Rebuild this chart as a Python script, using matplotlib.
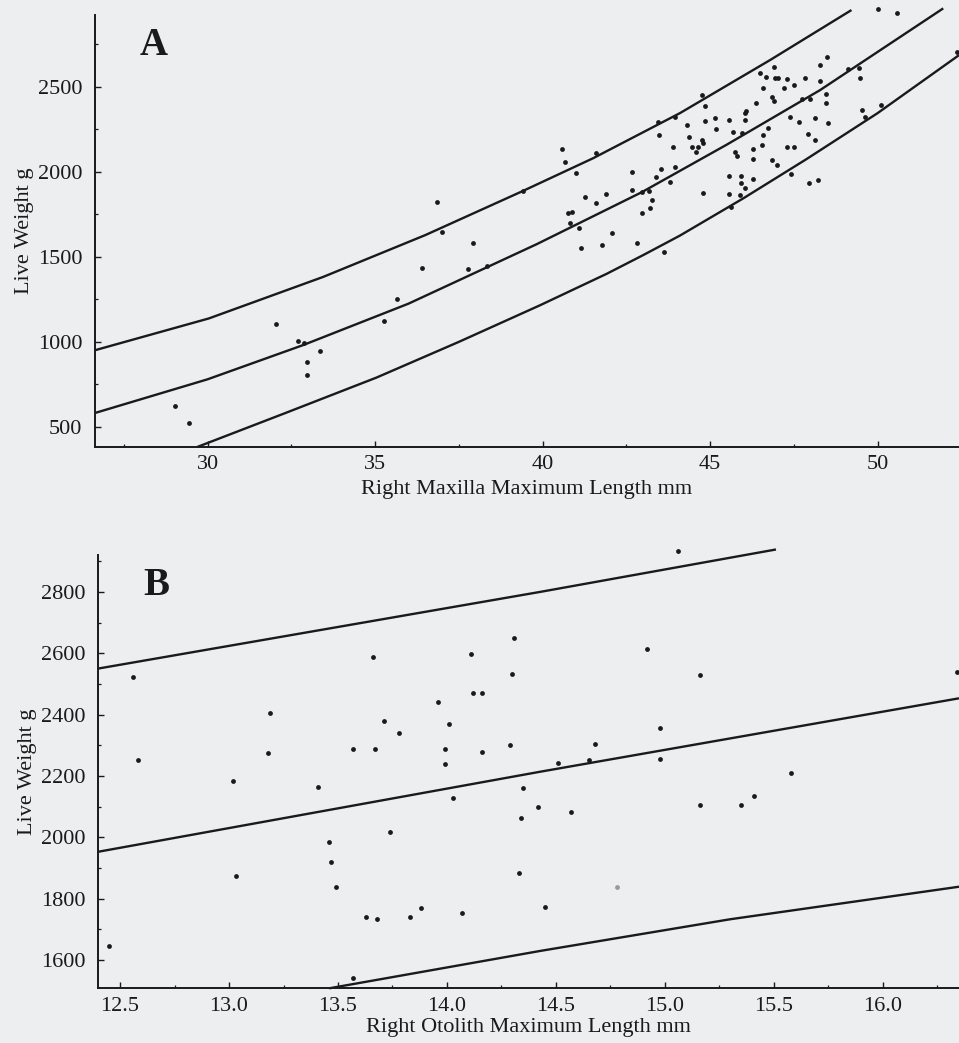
import matplotlib
matplotlib.use("Agg")
import matplotlib.pyplot as plt
from matplotlib.ticker import MultipleLocator, FormatStrFormatter, FixedLocator

plt.rcParams['font.family'] = ['Liberation Serif', 'DejaVu Serif']

# ---------------- Panel A data: maxilla length vs live weight ----------------
maxilla_len = [36.84, 39.41, 37.01, 37.91, 36.41, 37.76, 38.33, 35.66, 35.28, 32.03,
               32.69, 32.87, 33.35, 32.97, 32.97, 29.03, 29.45,
               40.57, 41.59, 40.67, 41.01, 42.66, 43.52, 43.95, 43.38, 43.80, 42.66,
               42.96, 43.18, 41.89, 41.26, 43.26, 43.20, 41.59, 40.76, 40.87, 42.96,
               40.81, 41.09, 42.06, 42.82, 41.76, 41.16, 43.62, 43.45, 43.95, 43.47, 43.88,
               46.91, 46.49, 46.67, 46.93, 47.03, 47.30, 47.83, 47.50, 46.57, 47.20,
               44.75, 46.84, 46.91, 44.84, 46.37, 47.73, 47.98, 46.07, 46.04, 47.38,
               48.13, 44.32, 44.85, 45.15, 45.57, 46.04, 47.65, 45.18, 45.67, 45.94,
               46.73, 46.57, 47.93, 48.13, 44.38, 44.75, 44.79, 46.54, 46.27, 47.30,
               47.50, 44.45, 44.64, 44.58, 45.75, 45.79, 46.27, 46.84, 46.99, 45.57,
               45.91, 46.27, 45.91, 46.04, 47.43, 47.96, 48.23, 44.78, 45.57, 45.89, 45.61,
               50.02, 50.57, 48.48, 48.28, 48.28, 48.46, 48.46, 48.53, 49.12, 49.45,
               49.47, 49.54, 49.62, 50.10, 52.38]
maxilla_wt = [1820, 1886, 1647, 1582, 1435, 1426, 1447, 1255, 1123, 1104,
              1006, 991, 945, 881, 804, 622, 524,
              2132, 2112, 2059, 1994, 2000, 2014, 2026, 1971, 1939, 1892,
              1882, 1888, 1869, 1849, 1836, 1785, 1814, 1755, 1761, 1755,
              1700, 1667, 1643, 1582, 1569, 1553, 1526, 2294, 2320, 2216, 2143,
              2618, 2579, 2559, 2549, 2549, 2543, 2553, 2510, 2490, 2490,
              2451, 2438, 2418, 2388, 2402, 2426, 2426, 2359, 2343, 2323,
              2314, 2275, 2298, 2314, 2304, 2304, 2290, 2251, 2235, 2226,
              2255, 2216, 2222, 2186, 2202, 2186, 2170, 2157, 2133, 2147,
              2147, 2143, 2143, 2118, 2114, 2092, 2075, 2069, 2039, 1975,
              1975, 1957, 1935, 1902, 1990, 1932, 1951, 1873, 1867, 1863, 1794,
              2955, 2935, 2673, 2628, 2535, 2457, 2402, 2288, 2602, 2608,
              2553, 2363, 2320, 2392, 2706]

maxilla_fit_x = [26.64, 30.00, 32.85, 36.00, 39.83, 42.96, 45.50, 48.28, 51.96]
maxilla_fit_y = [582, 780, 981, 1225, 1575, 1880, 2160, 2480, 2961]
maxilla_upper_x = [26.64, 30.04, 33.45, 36.50, 39.42, 41.51, 44.10, 46.79, 49.22]
maxilla_upper_y = [951, 1138, 1382, 1628, 1888, 2080, 2345, 2657, 2951]
maxilla_lower_x = [29.69, 32.30, 35.04, 37.50, 39.92, 41.91, 43.00, 44.10, 46.00,
                   47.88, 50.00, 52.43]
maxilla_lower_y = [382, 580, 790, 1000, 1215, 1400, 1510, 1625, 1845,
                   2075, 2345, 2686]

# ---------------- Panel B data: otolith length vs live weight ----------------
otolith_len = [14.31, 13.66, 14.11, 14.30, 12.56, 14.12, 14.16, 13.96, 13.19, 13.71,
               14.01, 13.78, 13.18, 13.57, 13.67, 13.99, 14.16, 14.29, 12.58, 13.99,
               13.02, 13.41, 14.35, 14.03, 14.42, 14.34, 13.74, 13.46, 13.47, 14.33,
               13.03, 13.49, 13.88, 14.07, 13.63, 13.68, 13.83, 12.45, 13.57, 15.06,
               14.92, 15.16, 14.98, 14.68, 14.51, 14.65, 14.98, 15.58, 15.41, 15.16,
               15.35, 14.57, 14.45, 16.34]
otolith_wt = [2651, 2588, 2599, 2532, 2523, 2469, 2469, 2440, 2406, 2380,
              2369, 2339, 2275, 2287, 2287, 2288, 2279, 2301, 2252, 2239,
              2182, 2165, 2160, 2127, 2100, 2062, 2017, 1986, 1918, 1883,
              1875, 1838, 1770, 1752, 1740, 1735, 1741, 1646, 1542, 2933,
              2613, 2529, 2355, 2304, 2243, 2252, 2254, 2208, 2135, 2105,
              2105, 2083, 1774, 2539]
# one faintly printed point
otolith_faint_len = [14.78]
otolith_faint_wt = [1837]

otolith_fit_x = [12.40, 14.43, 16.35]
otolith_fit_y = [1953, 2214, 2453]
otolith_upper_x = [12.40, 14.43, 15.51]
otolith_upper_y = [2550, 2800, 2938]
otolith_lower_x = [13.46, 14.43, 15.30, 16.35]
otolith_lower_y = [1508, 1630, 1733, 1839]

maxilla_yticks = [500, 1000, 1500, 2000, 2500]
maxilla_xticks = [30, 35, 40, 45, 50]
otolith_yticks = [1600, 1800, 2000, 2200, 2400, 2600, 2800]
otolith_xticks = [12.5, 13.0, 13.5, 14.0, 14.5, 15.0, 15.5, 16.0]

BG = '#eceef0'
INK = '#1a1a1a'
FS = 16

fig = plt.figure(figsize=(9.59, 10.43), dpi=100, facecolor=BG)
axA = fig.add_axes([95 / 959, 1 - 447 / 1043, (959 - 95) / 959, (447 - 15) / 1043])
axB = fig.add_axes([98.3 / 959, 1 - 988.3 / 1043, (959 - 98.3) / 959, (988.3 - 555) / 1043])


def style(ax):
    ax.set_facecolor(BG)
    for s in ('top', 'right'):
        ax.spines[s].set_visible(False)
    for s in ('left', 'bottom'):
        ax.spines[s].set_linewidth(1.4)
        ax.spines[s].set_color(INK)
    ax.tick_params(which='major', direction='in', length=4, width=1.0, colors=INK,
                   labelsize=FS, labelcolor=INK)
    ax.tick_params(which='minor', direction='in', length=2.5, width=0.9, colors=INK)
    ax.tick_params(axis='y', pad=9)
    ax.tick_params(axis='x', pad=6)


# Panel A
style(axA)
axA.scatter(maxilla_len, maxilla_wt, s=12, color=INK, zorder=3, clip_on=False, linewidths=0)
for xs, ys in ((maxilla_fit_x, maxilla_fit_y), (maxilla_upper_x, maxilla_upper_y),
               (maxilla_lower_x, maxilla_lower_y)):
    axA.plot(xs, ys, color=INK, lw=1.7, clip_on=False, solid_capstyle='butt',
             solid_joinstyle='round')
axA.set_xlim(26.64, 52.43)
axA.set_ylim(382, 2922)
axA.yaxis.set_major_locator(FixedLocator(maxilla_yticks))
axA.yaxis.set_minor_locator(MultipleLocator(250))
axA.xaxis.set_major_locator(FixedLocator(maxilla_xticks))
axA.xaxis.set_minor_locator(MultipleLocator(2.5))
axA.set_ylabel('Live Weight g', fontsize=FS, color=INK, labelpad=3)
axA.set_xlabel('Right Maxilla Maximum Length mm', fontsize=FS, color=INK, labelpad=4)
axA.text(0.052, 0.907, 'A', transform=axA.transAxes, fontsize=28, fontweight='bold',
         color=INK, va='baseline', ha='left')

# Panel B
style(axB)
axB.scatter(otolith_len, otolith_wt, s=12, color=INK, zorder=3, clip_on=False, linewidths=0)
axB.scatter(otolith_faint_len, otolith_faint_wt, s=12, color='#9a9a9a', zorder=3,
            clip_on=False, linewidths=0)
for xs, ys in ((otolith_fit_x, otolith_fit_y), (otolith_upper_x, otolith_upper_y),
               (otolith_lower_x, otolith_lower_y)):
    axB.plot(xs, ys, color=INK, lw=1.7, clip_on=False, solid_capstyle='butt',
             solid_joinstyle='round')
axB.set_xlim(12.40, 16.35)
axB.set_ylim(1508, 2920)
axB.yaxis.set_major_locator(FixedLocator(otolith_yticks))
axB.yaxis.set_minor_locator(MultipleLocator(100))
axB.xaxis.set_major_locator(FixedLocator(otolith_xticks))
axB.xaxis.set_minor_locator(MultipleLocator(0.25))
axB.xaxis.set_major_formatter(FormatStrFormatter('%.1f'))
axB.set_ylabel('Live Weight g', fontsize=FS, color=INK, labelpad=3)
axB.set_xlabel('Right Otolith Maximum Length mm', fontsize=FS, color=INK, labelpad=2)
axB.text(0.052, 0.908, 'B', transform=axB.transAxes, fontsize=28, fontweight='bold',
         color=INK, va='baseline', ha='left')

fig.savefig('out.png', dpi=100, facecolor=BG)
